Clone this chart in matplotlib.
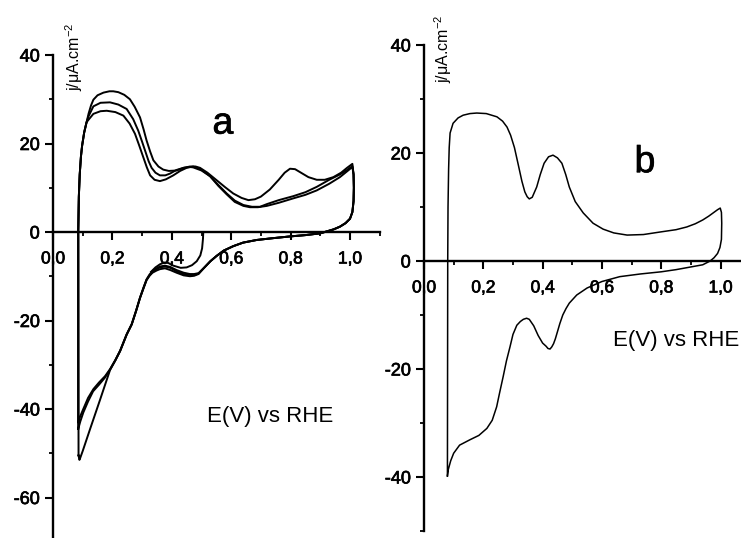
import matplotlib
matplotlib.use("Agg")
import matplotlib.pyplot as plt
import matplotlib.patheffects as pe
from matplotlib.ticker import MultipleLocator

plt.rcParams['font.family'] = ['Liberation Sans', 'DejaVu Sans']
plt.rcParams['mathtext.fontset'] = 'custom'
plt.rcParams['mathtext.rm'] = 'Liberation Sans'
plt.rcParams['mathtext.it'] = 'Liberation Sans:italic'
plt.rcParams['mathtext.sf'] = 'Liberation Sans'

# ---- panel a: three voltammetric cycles (E in V vs RHE, j in uA/cm2) ----
# shared start of every anodic sweep (values after the lower turning point)
a_rise_E = [0.085, 0.087, 0.090, 0.094, 0.098, 0.105, 0.113]
a_rise_j = [0.0, 8.0, 13.0, 17.0, 19.5, 22.5, 24.8]

a1_up_E = [0.120, 0.128, 0.136, 0.150, 0.170, 0.190, 0.203, 0.220, 0.240, 0.259, 0.275,
           0.293, 0.305, 0.315, 0.327, 0.338, 0.355, 0.371, 0.390, 0.416, 0.440, 0.461,
           0.480, 0.495, 0.520, 0.551, 0.580, 0.607, 0.635, 0.658, 0.680, 0.700, 0.730,
           0.760, 0.780, 0.798, 0.815, 0.835, 0.860, 0.888, 0.915, 0.944, 0.970, 0.990, 1.008]
a1_up_j = [26.8, 28.6, 29.9, 30.9, 31.5, 31.8, 31.8, 31.6, 31.0, 30.0, 28.3,
           25.9, 23.2, 20.7, 18.2, 16.2, 14.8, 14.1, 13.8, 13.9, 14.5, 14.8,
           14.8, 14.5, 13.4, 11.7, 10.1, 8.7, 7.7, 7.2, 7.4, 8.0, 9.6,
           11.8, 13.4, 14.3, 14.2, 13.4, 12.4, 11.8, 11.8, 12.4, 13.4, 14.5, 15.4]

a2_up_E = [0.120, 0.136, 0.160, 0.192, 0.220, 0.248, 0.270, 0.287, 0.300, 0.310, 0.322,
           0.332, 0.345, 0.360, 0.378, 0.394, 0.415, 0.439, 0.460, 0.472, 0.500, 0.529,
           0.557, 0.585, 0.612, 0.641, 0.670, 0.697, 0.720, 0.760, 0.809, 0.850, 0.888,
           0.930, 0.966, 0.990, 1.008]
a2_up_j = [26.2, 28.4, 29.2, 29.3, 28.8, 27.8, 25.5, 22.9, 20.4, 18.4, 16.0,
           14.5, 13.4, 12.8, 12.8, 13.2, 14.0, 14.5, 14.7, 14.6, 13.9, 12.6,
           10.6, 8.7, 7.1, 6.1, 5.7, 5.7, 6.3, 7.2, 8.1, 9.0, 10.2,
           11.8, 13.0, 14.0, 14.9]

a3_up_E = [0.120, 0.136, 0.160, 0.181, 0.210, 0.237, 0.258, 0.276, 0.290, 0.304, 0.316,
           0.327, 0.342, 0.360, 0.380, 0.405, 0.428, 0.450, 0.472, 0.495, 0.529, 0.557,
           0.585, 0.612, 0.641, 0.663, 0.690, 0.720, 0.760, 0.809, 0.850, 0.888, 0.930,
           0.966, 0.990, 1.008]
a3_up_j = [25.4, 26.7, 27.3, 27.4, 27.1, 26.3, 24.5, 22.2, 19.6, 16.9, 14.6,
           12.8, 11.8, 11.5, 11.9, 12.8, 13.8, 14.5, 14.8, 14.3, 12.6, 10.4,
           8.5, 6.8, 5.9, 5.6, 5.6, 5.9, 6.6, 7.6, 8.4, 9.4, 10.9,
           12.4, 13.7, 14.7]

# shared start of the cathodic sweep, from the upper turning point down to 0.5 V
a_fall_E = [1.012, 1.013, 1.012, 1.008, 1.000, 0.985, 0.966, 0.945, 0.920, 0.900, 0.850,
            0.798, 0.740, 0.686, 0.640, 0.607, 0.575, 0.551, 0.530, 0.510]
a_fall_j = [13.0, 10.0, 7.0, 4.5, 3.0, 2.0, 1.2, 0.6, 0.1, -0.3, -0.7,
            -1.0, -1.4, -1.8, -2.4, -3.2, -4.2, -5.4, -6.6, -8.0]

a1_down_E = [0.490, 0.475, 0.461, 0.440, 0.416, 0.395, 0.377, 0.360, 0.349, 0.335, 0.325,
             0.315, 0.305, 0.293, 0.280, 0.265, 0.248, 0.226, 0.210, 0.192, 0.158, 0.125,
             0.100, 0.092, 0.089, 0.086]
a1_down_j = [-9.5, -9.9, -10.0, -9.8, -9.2, -8.6, -8.2, -8.4, -8.7, -9.2, -9.9,
             -10.9, -12.7, -14.9, -17.8, -20.9, -23.2, -26.9, -29.0, -31.2, -38.0, -44.5,
             -49.5, -51.0, -51.5, -50.5]

a2_down_E = [0.490, 0.475, 0.461, 0.440, 0.416, 0.395, 0.377, 0.360, 0.349, 0.335, 0.325,
             0.315, 0.305, 0.293, 0.280, 0.265, 0.248, 0.226, 0.210, 0.192, 0.175, 0.155,
             0.136, 0.118, 0.102, 0.092, 0.085]
a2_down_j = [-9.3, -9.5, -9.5, -9.2, -8.6, -7.9, -7.6, -7.8, -8.2, -8.8, -9.6,
             -10.7, -12.5, -14.8, -17.7, -20.8, -23.1, -26.8, -28.9, -31.0, -32.6, -34.0,
             -35.5, -37.5, -40.0, -41.6, -43.0]

a3_down_E = [0.490, 0.475, 0.461, 0.440, 0.416, 0.395, 0.377, 0.360, 0.349, 0.335, 0.325,
             0.315, 0.305, 0.293, 0.280, 0.265, 0.248, 0.226, 0.210, 0.192, 0.175, 0.155,
             0.135, 0.118, 0.102, 0.092, 0.085]
a3_down_j = [-9.4, -9.7, -9.7, -9.5, -8.9, -8.1, -7.8, -8.0, -8.4, -9.0, -9.8,
             -10.8, -12.6, -14.9, -17.8, -20.9, -23.2, -26.9, -29.0, -31.1, -32.9, -34.5,
             -36.0, -38.3, -40.8, -42.8, -44.5]

# reversal from 0.5 V
a_rev_E = [0.506, 0.505, 0.502, 0.496, 0.484, 0.468, 0.450, 0.430, 0.405, 0.388, 0.375,
           0.360, 0.345, 0.330]
a_rev_j = [0.0, -1.5, -3.7, -5.3, -6.6, -7.5, -8.0, -8.1, -7.6, -7.0, -6.9,
           -7.3, -8.0, -9.0]

# ---- panel b: single cycle ----
b_up_E = [0.079, 0.080, 0.081, 0.083, 0.085, 0.088, 0.098, 0.115, 0.132, 0.155, 0.178,
          0.210, 0.246, 0.265, 0.280, 0.292, 0.305, 0.318, 0.330, 0.340, 0.348, 0.355,
          0.365, 0.380, 0.392, 0.405, 0.420, 0.435, 0.450, 0.465, 0.478, 0.490, 0.510,
          0.537, 0.570, 0.604, 0.640, 0.685, 0.740, 0.800, 0.850, 0.886, 0.915, 0.940,
          0.960, 0.975, 0.990, 0.999]
b_up_j = [-39.8, 0.0, 10.0, 17.0, 21.0, 23.7, 25.5, 26.5, 27.0, 27.3, 27.4,
          27.3, 26.7, 25.9, 24.8, 23.3, 21.0, 17.8, 14.8, 12.8, 11.9, 11.5,
          11.8, 13.7, 16.0, 18.1, 19.3, 19.6, 19.1, 18.1, 16.0, 13.7, 11.0,
          8.9, 7.0, 5.9, 5.2, 4.8, 4.9, 5.4, 5.8, 6.3, 6.9, 7.6,
          8.3, 8.9, 9.5, 9.8]

b_down_E = [1.003, 1.004, 1.003, 0.998, 0.990, 0.978, 0.965, 0.940, 0.900, 0.850, 0.800,
            0.730, 0.660, 0.600, 0.550, 0.515, 0.490, 0.479, 0.468, 0.458, 0.450, 0.443,
            0.437, 0.431, 0.425, 0.418, 0.412, 0.400, 0.385, 0.370, 0.355, 0.346, 0.335,
            0.325, 0.313, 0.300, 0.290, 0.278, 0.267, 0.255, 0.245, 0.230, 0.212, 0.185,
            0.155, 0.120, 0.100, 0.090, 0.082, 0.079]
b_down_j = [9.0, 7.0, 4.0, 2.5, 1.4, 0.6, 0.0, -0.7, -1.1, -1.6, -2.0,
            -2.4, -2.9, -3.8, -5.0, -6.3, -7.8, -8.8, -10.0, -11.6, -13.1, -14.4,
            -15.3, -15.9, -16.3, -16.2, -15.8, -15.2, -13.8, -12.0, -10.8, -10.6, -10.8,
            -11.2, -11.9, -13.6, -15.9, -18.5, -21.4, -24.4, -27.0, -29.5, -31.0, -32.3,
            -33.1, -34.1, -35.6, -37.0, -38.6, -39.8]

x_ticks = [0.0, 0.2, 0.4, 0.6, 0.8, 1.0]
x_tick_labels = ['0,0', '0,2', '0,4', '0,6', '0,8', '1,0']
a_yticks = [-60, -40, -20, 0, 20, 40]
b_yticks = [-40, -20, 0, 20, 40]

# slightly heavier glyphs, like a printed page
ink = [pe.withStroke(linewidth=0.5, foreground='black')]


def style_axes(ax, xmax, ymin, yticks):
    ax.set_xlim(0, xmax)
    ax.set_ylim(ymin, 40)
    ax.spines['top'].set_visible(False)
    ax.spines['right'].set_visible(False)
    ax.spines['bottom'].set_position(('data', 0))
    for s in ('left', 'bottom'):
        ax.spines[s].set_linewidth(1.7)
    ax.set_xticks(x_ticks)
    ax.set_xticklabels(x_tick_labels)
    ax.xaxis.set_minor_locator(MultipleLocator(0.1))
    ax.set_yticks(yticks)
    ax.set_yticklabels([str(t) for t in yticks])
    ax.yaxis.set_minor_locator(MultipleLocator(10))
    ax.tick_params(axis='x', which='major', direction='out', length=6, width=1.5,
                   pad=8, labelsize=12.5)
    ax.tick_params(axis='x', which='minor', direction='out', length=3, width=1.3)
    ax.tick_params(axis='y', which='major', direction='out', length=6, width=1.5,
                   pad=3.5, labelsize=13)
    ax.tick_params(axis='y', which='minor', direction='out', length=3, width=1.3)
    for lab in ax.get_xticklabels() + ax.get_yticklabels():
        lab.set_path_effects(ink)
    ax.patch.set_visible(False)


fig = plt.figure(figsize=(7.41, 5.38), dpi=100)
ax_a = fig.add_axes([53 / 741, 1 - 541.75 / 538, 326.7 / 741, 486.75 / 538])
ax_b = fig.add_axes([424 / 741, 1 - 531 / 538, 317.3 / 741, 486 / 538])

# panel a
lw_a = 1.4
cycles = [
    (a1_up_E, a1_up_j, a1_down_E, a1_down_j),
    (a2_up_E, a2_up_j, a2_down_E, a2_down_j),
    (a3_up_E, a3_up_j, a3_down_E, a3_down_j),
]
for up_E, up_j, dn_E, dn_j in cycles:
    E = [dn_E[-1]] + a_rise_E + up_E + a_fall_E + dn_E
    j = [dn_j[-1]] + a_rise_j + up_j + a_fall_j + dn_j
    ax_a.plot(E, j, color='black', lw=lw_a, solid_joinstyle='round')
ax_a.plot(a_rev_E, a_rev_j, color='black', lw=lw_a)
style_axes(ax_a, 1.1, -70, a_yticks)

ax_a.text(0.071, 31.9, 'j/μA.cm$^{-2}$', rotation=90, ha='center', va='bottom',
          fontsize=11.5)
ax_a.text(0.572, 24.5, 'a', ha='center', va='center', fontsize=27, path_effects=ink)
ax_a.text(0.73, -41.8, 'E(V) vs RHE', ha='center', va='center', fontsize=16)

# panel b
ax_b.plot(b_up_E + b_down_E, b_up_j + b_down_j, color='black', lw=1.1,
          solid_joinstyle='round')
style_axes(ax_b, 1.07, -50, b_yticks)

ax_b.text(0.064, 33.0, 'j/μA.cm$^{-2}$', rotation=90, ha='center', va='bottom',
          fontsize=11.5)
ax_b.text(0.745, 18.3, 'b', ha='center', va='center', fontsize=27, path_effects=ink)
ax_b.text(0.637, -14.8, 'E(V) vs RHE', ha='left', va='center', fontsize=16)

fig.savefig('out.png', dpi=100)
